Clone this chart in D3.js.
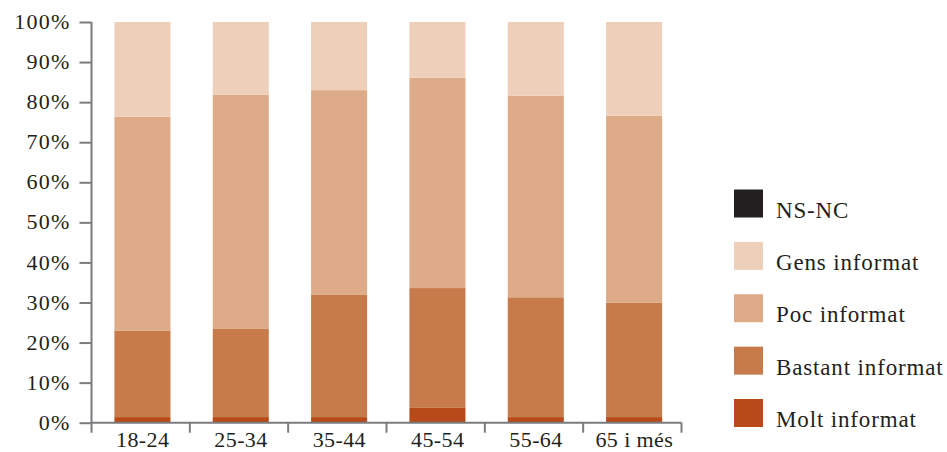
<!DOCTYPE html>
<html>
<head>
<meta charset="utf-8">
<script src="https://cdn.jsdelivr.net/npm/d3@7"></script>
<style>
  html, body { margin: 0; padding: 0; background: #ffffff; }
  svg { display: block; }
  text { font-family: "Liberation Serif", "DejaVu Serif", serif; fill: #231f20; }
</style>
</head>
<body>
<svg id="chart" width="947" height="452"></svg>
<script>
const categories = ["18-24", "25-34", "35-44", "45-54", "55-64", "65 i més"];
const molt    = [1.4, 1.4, 1.4, 3.7, 1.4, 1.4];
const bastant = [21.6, 22.0, 30.6, 29.9, 29.9, 28.6];
const poc     = [53.4, 58.4, 51.0, 52.5, 50.3, 46.6];
const gens    = [23.6, 18.2, 17.0, 13.9, 18.4, 23.4];
const nsnc    = [0, 0, 0, 0, 0, 0];
const yTicks  = [0, 10, 20, 30, 40, 50, 60, 70, 80, 90, 100];

const seriesNames  = ["Molt informat", "Bastant informat", "Poc informat", "Gens informat", "NS-NC"];
const seriesValues = [molt, bastant, poc, gens, nsnc];
const seriesColors = ["#b84a1a", "#c77a4a", "#ddab88", "#eecfba", "#231f20"];

const rows = categories.map((c, i) => {
  const r = { cat: c };
  seriesNames.forEach((s, j) => r[s] = seriesValues[j][i]);
  return r;
});

const svg = d3.select("#chart");
const y = d3.scaleLinear().domain([0, 100]).range([422.7, 22]);
const x = d3.scaleBand().domain(categories).range([91.5, 681.5]);
const color = d3.scaleOrdinal().domain(seriesNames).range(seriesColors);

const stack = d3.stack().keys(seriesNames);
const layers = stack(rows);

const bw = x.bandwidth();
const barOff = bw * 0.233, barW = bw * 0.57;

svg.append("g").selectAll("g").data(layers).join("g")
  .attr("fill", d => color(d.key))
  .selectAll("rect").data(d => d).join("rect")
  .attr("x", d => x(d.data.cat) + barOff)
  .attr("width", barW)
  .attr("y", d => y(d[1]))
  .attr("height", d => Math.max(0, y(d[0]) - y(d[1])));

const axisColor = "#7a7b7e";

// Y axis
const yAxis = svg.append("g").attr("transform", `translate(${x.range()[0]},0)`)
  .call(d3.axisLeft(y).tickValues(yTicks).tickFormat(d => d + "%").tickSize(12).tickPadding(9));
yAxis.select(".domain").remove();
yAxis.selectAll(".tick line").attr("stroke", axisColor).attr("stroke-width", 2);
yAxis.selectAll(".tick text").attr("font-size", 22).attr("font-family", "Liberation Serif")
  .attr("fill", "#231f20").attr("dy", "0.3em").attr("letter-spacing", 1.2);
yAxis.append("line").attr("x1", 0).attr("x2", 0).attr("y1", y(100)).attr("y2", y(0) + 10)
  .attr("stroke", axisColor).attr("stroke-width", 2);

// X axis
const xAxis = svg.append("g").attr("transform", `translate(0,${y(0)})`)
  .call(d3.axisBottom(x).tickSize(0).tickPadding(9));
xAxis.select(".domain").remove();
xAxis.selectAll(".tick text").attr("font-size", 22).attr("font-family", "Liberation Serif")
  .attr("fill", "#231f20").attr("dx", 2).attr("letter-spacing", 0.4);
xAxis.append("line").attr("x1", x.range()[0]).attr("x2", x.range()[1]).attr("y1", 0).attr("y2", 0)
  .attr("stroke", axisColor).attr("stroke-width", 2);
const bounds = categories.map(c => x(c)).concat([x.range()[1]]).slice(1);
xAxis.selectAll(".bound").data(bounds).join("line").attr("class", "bound")
  .attr("x1", d => d).attr("x2", d => d).attr("y1", 0).attr("y2", 10)
  .attr("stroke", axisColor).attr("stroke-width", 2);

// Legend
const legendOrder = seriesNames.slice().reverse();
const ly = d3.scalePoint().domain(legendOrder).range([189.5, 399]);
const lg = svg.append("g").selectAll("g").data(legendOrder).join("g")
  .attr("transform", d => `translate(734,${ly(d)})`);
lg.append("rect").attr("width", 29).attr("height", 28).attr("fill", d => color(d));
lg.append("text").attr("x", 42).attr("y", 28).attr("font-size", 23)
  .attr("letter-spacing", 0.85).text(d => d);
</script>
</body>
</html>
